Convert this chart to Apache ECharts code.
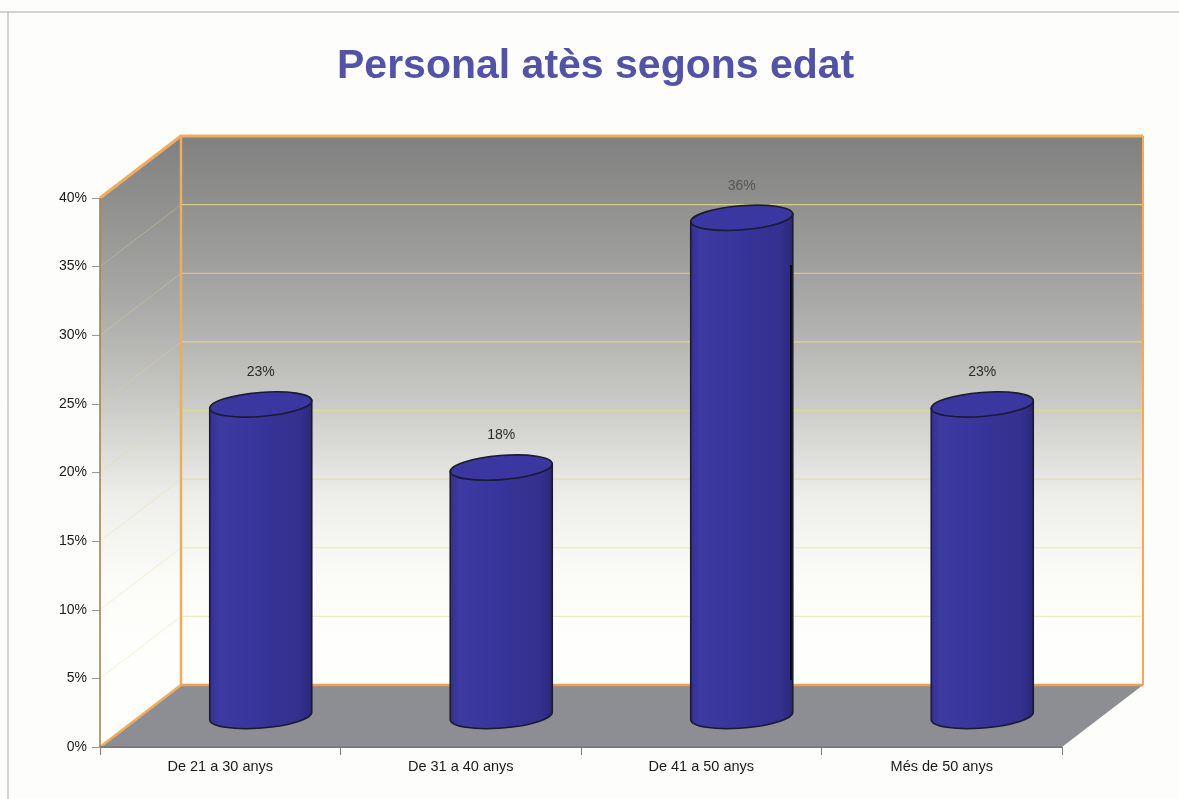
<!DOCTYPE html>
<html><head><meta charset="utf-8">
<style>html,body{margin:0;padding:0;background:#fdfdfb}#c{width:1179px;height:799px}</style>
<script src="https://cdn.jsdelivr.net/npm/echarts@6/dist/echarts.min.js"></script>
</head><body><div id="c"></div>
<script>
const titleText = 'Personal atès segons edat';
const categories = ['De 21 a 30 anys', 'De 31 a 40 anys', 'De 41 a 50 anys', 'Més de 50 anys'];
const values = [22.7, 18.1, 36.3, 22.7];
const yTicks = [0, 5, 10, 15, 20, 25, 30, 35, 40];

const DX = 81, DY = -62;
const ORANGE = '#f0ab5e', GRID = '#e6da80';
const wallFill = {type:'linear', x:0, y:137, x2:0, y2:640, global:true, colorStops:[
  {offset:0, color:'#808080'}, {offset:.15, color:'#929291'}, {offset:.33, color:'#a9a9a7'}, {offset:.52, color:'#c8c8c4'},
  {offset:.72, color:'#eeeeea'}, {offset:.88, color:'#fbfbf7'}, {offset:1, color:'#fefefc'}]};

function line(x1,y1,x2,y2,stroke,lw,opacity){
  return {type:'line', shape:{x1,y1,x2,y2}, silent:true, style:{stroke, lineWidth:lw, opacity:opacity==null?1:opacity, fill:null}};
}
function poly(points,fill){ return {type:'polygon', shape:{points}, silent:true, style:{fill}}; }

function renderWalls(params, api){
  const g = params.coordSys, L = g.x, R = g.x + g.width, T = g.y, B = g.y + g.height;
  const kids = [
    poly([[L+DX,T+DY],[R+DX,T+DY],[R+DX,B+DY],[L+DX,B+DY]], wallFill),
    poly([[L,T],[L+DX,T+DY],[L+DX,B+DY],[L,B]], wallFill),
    poly([[L,B],[L+DX,B+DY],[R+DX,B+DY],[R,B]], '#8d8d94')
  ];
  yTicks.slice(1, -1).forEach(t => {
    const y = api.coord([0, t])[1];
    kids.push(line(L, y, L+DX, y+DY, GRID, 1, .35));
    kids.push(line(L+DX, y+DY, R+DX, y+DY, GRID, 1.2, t <= 15 ? .5 : .85));
  });
  kids.push(line(L+DX-1, T+DY, R+DX, T+DY, ORANGE, 3));
  kids.push(line(L, T, L+DX, T+DY, ORANGE, 3));
  kids.push(line(L+DX, T+DY, L+DX, B+DY, ORANGE, 2.5));
  kids.push(line(R+DX, T+DY, R+DX, B+DY, ORANGE, 2));
  kids.push(line(L+DX, B+DY, R+DX, B+DY, '#ee9f52', 2.5));
  kids.push(line(L, B, L+DX, B+DY, ORANGE, 2.5));
  kids.push(line(L, T, L, B, '#a5814e', 1.6));
  kids.push(line(L, B, R, B, '#77777c', 1.4));
  return {type:'group', children:kids};
}

function renderCylinder(params, api){
  const i = api.value(0), v = api.value(1);
  const base = api.coord([i, 0]), top = api.coord([i, v]);
  const cx = base[0] + DX/2, rx = 51, ry = 12, tilt = 4, rot = -4.5;
  const by = base[1] + DY/2, ty = top[1] + DY/2;
  const x0 = cx - rx, x1 = cx + rx;
  const body = `M${x0} ${ty+tilt} L${x0} ${by+tilt} A${rx} ${ry} ${rot} 0 0 ${x1} ${by-tilt} L${x1} ${ty-tilt} Z`;
  const cap = `M${x0} ${ty+tilt} A${rx} ${ry} ${rot} 1 1 ${x1} ${ty-tilt} A${rx} ${ry} ${rot} 1 1 ${x0} ${ty+tilt} Z`;
  const fill = {type:'linear', x:0, y:0, x2:1, y2:0, colorStops:[
    {offset:0, color:'#33308f'}, {offset:.1, color:'#3d3aa2'}, {offset:.5, color:'#37349a'},
    {offset:.88, color:'#33308f'}, {offset:1, color:'#2a2778'}]};
  return {type:'group', children:[
    {type:'path', shape:{pathData:body}, silent:true, style:{fill, stroke:'#1a1a30', lineWidth:1.6}},
    {type:'path', shape:{pathData:cap}, silent:true, style:{fill:'#3a37a0', stroke:'#1a1a30', lineWidth:1.6}},
    {type:'text', silent:true, style:{x:cx, y:ty-32, text:Math.round(v)+'%', align:'center', verticalAlign:'middle',
      font:'14px "Liberation Sans"', fill: v>30 ? '#555' : '#2a2a2a'}}
  ]};
}

const chart = echarts.init(document.getElementById('c'), null, {renderer:'canvas', width:1179, height:799});
chart.setOption({
  animation:false,
  backgroundColor:'#fdfdfb',
  title:{text:titleText, left:332, top:41,
    textStyle:{fontFamily:'Liberation Sans', fontWeight:'bold', fontSize:41, color:'#5252a6'}},
  grid:{left:100, top:198, width:962, height:549, containLabel:false},
  xAxis:{type:'category', data:categories, boundaryGap:true,
    axisLine:{lineStyle:{color:'#77777c'}},
    axisTick:{show:true, length:8, alignWithLabel:false, lineStyle:{color:'#777'}},
    axisLabel:{fontFamily:'Liberation Sans', fontSize:14.5, color:'#1a1a1a', margin:12, interval:0},
    splitLine:{show:false}},
  yAxis:{type:'value', min:0, max:40, interval:5,
    axisLine:{show:true, lineStyle:{color:'#a5814e'}},
    axisTick:{show:true, length:8, lineStyle:{color:'#999'}},
    axisLabel:{fontFamily:'Liberation Sans', fontSize:14, color:'#1a1a1a', margin:13, formatter:'{value}%'},
    splitLine:{show:false}},
  series:[
    {type:'custom', coordinateSystem:'cartesian2d', z:1, silent:true, clip:false, renderItem:renderWalls, data:[[0,0]], encode:{x:0,y:1}},
    {type:'custom', coordinateSystem:'cartesian2d', z:2, silent:true, clip:false, renderItem:renderCylinder,
      data:values.map((v,i)=>[i,v]), encode:{x:0,y:1}}
  ],
  graphic:[
    {type:'line', shape:{x1:0,y1:12,x2:1179,y2:12}, style:{stroke:'#a8a8a8', lineWidth:1}, silent:true},
    {type:'line', shape:{x1:8,y1:12,x2:8,y2:799}, style:{stroke:'#a8a8a8', lineWidth:1}, silent:true},
    {type:'line', z:10, shape:{x1:791,y1:265,x2:791,y2:680}, style:{stroke:'#0c0c14', lineWidth:2}, silent:true}
  ]
});
</script></body></html>
